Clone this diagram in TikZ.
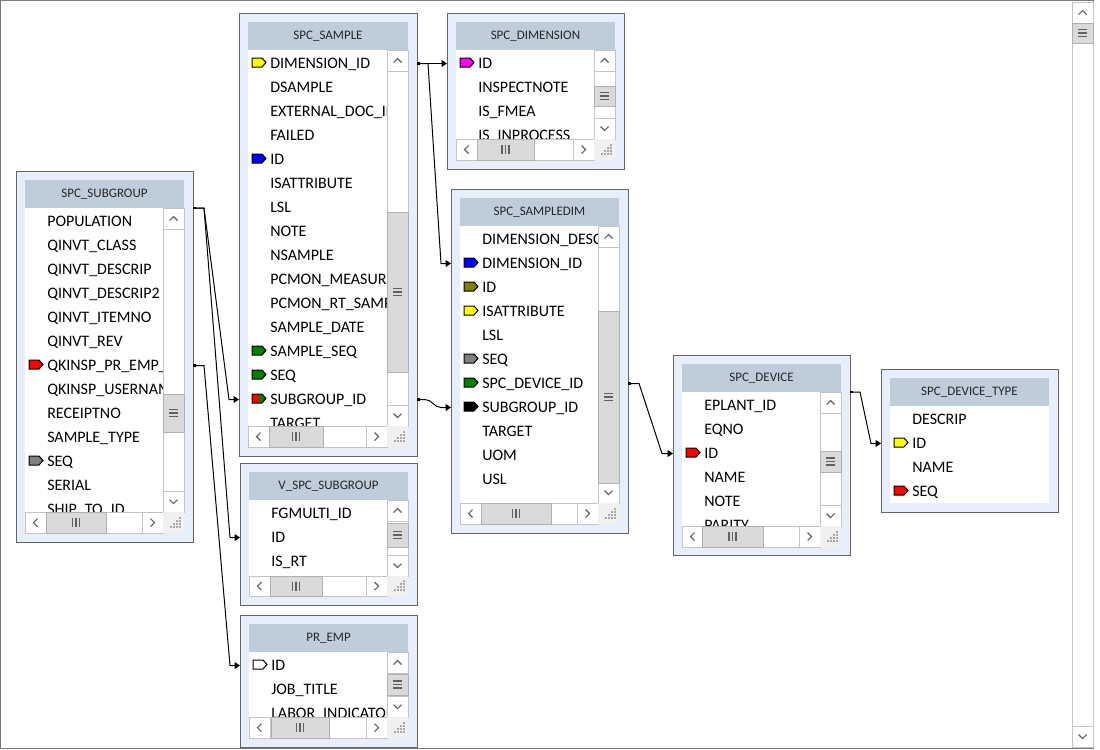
\documentclass[tikz,border=0pt]{standalone}
\usepackage{fontspec}
\setmainfont{Carlito}
\usetikzlibrary{arrows.meta,calc}
\definecolor{frameborder}{HTML}{646464}
\definecolor{framefill}{HTML}{E7EEFC}
\definecolor{headfill}{HTML}{BFCDDB}
\definecolor{sbline}{HTML}{C4C4C4}
\definecolor{thumbfill}{HTML}{DADADA}
\definecolor{thumbline}{HTML}{B0B0B0}
\definecolor{glyphcol}{HTML}{606060}
\definecolor{gripfill}{HTML}{F0F0F0}
\definecolor{gripdot}{HTML}{A8A8A8}
\definecolor{outerline}{HTML}{7A7A7A}
\definecolor{keyred}{HTML}{FF0000}
\definecolor{keygray}{HTML}{808080}
\definecolor{keyyellow}{HTML}{FFFF00}
\definecolor{keyblue}{HTML}{0000FF}
\definecolor{keygreen}{HTML}{008000}
\definecolor{keymagenta}{HTML}{FF00FF}
\definecolor{keyolive}{HTML}{808000}
\definecolor{keyblack}{HTML}{000000}
\definecolor{keywhite}{HTML}{FFFFFF}
\tikzset{
  xrow/.style={anchor=base west, inner sep=0pt, font=\fontsize{12}{14}\selectfont, text=black},
  xttl/.style={inner sep=0pt, font=\fontsize{9.75}{11}\selectfont, text=black!85},
  xsb/.style={draw=sbline, line width=0.75pt, fill=white},
  xthumb/.style={draw=thumbline, line width=0.75pt, fill=thumbfill},
  xglyph/.style={draw=glyphcol, line width=0.8pt},
  xgrip/.style={draw=glyphcol, line width=1.3pt},
  xkey/.style={draw=black, line width=0.75pt},
  xconn/.style={draw=black, line width=0.75pt, {Square[length=2.2pt,width=2.2pt]}-{Triangle[length=4pt,width=5pt]}},
}
\newcommand{\mytbl}[6]{%
  \path[draw=frameborder, fill=framefill, line width=0.75pt] (#1,#2) rectangle (#3,#4);
  \path[fill=headfill] ({#1+9},{#2+9}) rectangle ({#3-9},{#2+37});
  \path[fill=white] ({#1+9},{#2+37}) rectangle ({#3-9},{#4-9});
  \node[xttl] (#6) at ({(#1+#3)/2},{#2+23}) {#5};
}
\newcommand{\myrow}[4]{\node[xrow] (#1) at (#2,{#3+5}) {#4};}
\newcommand{\mykey}[3]{\path[xkey, fill=#3] (#1,{#2-5.5}) -- ({#1+10},{#2-5.5}) -- ({#1+14},{#2-1}) -- ({#1+10},{#2+3.5}) -- (#1,{#2+3.5}) -- cycle;}
\newcommand{\mykeyhalf}[4]{%
  \path[fill=#4] (#1,{#2-5.5}) -- ({#1+10},{#2-5.5}) -- ({#1+14},{#2-1}) -- ({#1+10},{#2+3.5}) -- (#1,{#2+3.5}) -- cycle;
  \path[fill=#3] (#1,{#2-5.5}) rectangle ({#1+7},{#2+3.5});
  \path[xkey] (#1,{#2-5.5}) -- ({#1+10},{#2-5.5}) -- ({#1+14},{#2-1}) -- ({#1+10},{#2+3.5}) -- (#1,{#2+3.5}) -- cycle;}
\newcommand{\myvsb}[6]{%
  \path[xsb] (#1,#2) rectangle (#3,#4);
  \path[xsb] (#1,#2) rectangle (#3,{#2+21});
  \path[xsb] (#1,{#4-21}) rectangle (#3,#4);
  \path[xthumb] (#1,#5) rectangle (#3,#6);
  \draw[xglyph] ({(#1+#3)/2-4},{#2+12.5}) -- ({(#1+#3)/2},{#2+8.5}) -- ({(#1+#3)/2+4},{#2+12.5});
  \draw[xglyph] ({(#1+#3)/2-4},{#4-12.5}) -- ({(#1+#3)/2},{#4-8.5}) -- ({(#1+#3)/2+4},{#4-12.5});
  \foreach \dy in {-3.5,0,3.5} {\draw[xgrip] ({(#1+#3)/2-4.5},{(#5+#6)/2+\dy}) -- ({(#1+#3)/2+4.5},{(#5+#6)/2+\dy});}
}
\newcommand{\myhsb}[6]{%
  \path[xsb] (#1,#2) rectangle (#3,#4);
  \path[xsb] (#1,#2) rectangle ({#1+21},#4);
  \path[xsb] ({#3-21},#2) rectangle (#3,#4);
  \path[xthumb] (#5,#2) rectangle (#6,#4);
  \draw[xglyph] ({#1+12.5},{(#2+#4)/2-4}) -- ({#1+8.5},{(#2+#4)/2}) -- ({#1+12.5},{(#2+#4)/2+4});
  \draw[xglyph] ({#3-12.5},{(#2+#4)/2-4}) -- ({#3-8.5},{(#2+#4)/2}) -- ({#3-12.5},{(#2+#4)/2+4});
  \foreach \dx in {-3.5,0,3.5} {\draw[xgrip] ({(#5+#6)/2+\dx},{(#2+#4)/2-4.5}) -- ({(#5+#6)/2+\dx},{(#2+#4)/2+4.5});}
}
\newcommand{\mygrip}[4]{%
  \path[fill=gripfill] (#1,#2) rectangle (#3,#4);
  \foreach \a/\b in {0/0,3/0,6/0,9/0,0/3,3/3,6/3,0/6,3/6,0/9} {\path[fill=gripdot] ({#3-5-\a},{#4-5-\b}) rectangle ++(2,-2);}
}
\begin{document}
\begin{tikzpicture}[x=0.75pt,y=-0.75pt]
\useasboundingbox (0,0) rectangle (1100,750);
\path[fill=white] (0,0) rectangle (1100,750);
\draw[draw=outerline, line width=0.9pt] (0.6,0.6) rectangle (1093.6,748.4);
% main scrollbar
\myvsb{1072}{2}{1093}{747}{23}{43}

% ---------- SPC_SUBGROUP
\mytbl{16}{171}{193}{542}{SPC\_SUBGROUP}{tSub}
\begin{scope}
\clip (25,208) rectangle (163,512);
\myrow{s1a}{47}{221.5}{POPULATION}
\myrow{s1b}{47}{245.5}{QINVT\_CLASS}
\myrow{s1c}{47}{269.5}{QINVT\_DESCRIP}
\myrow{s1d}{47}{293.5}{QINVT\_DESCRIP2}
\myrow{s1e}{47}{317.5}{QINVT\_ITEMNO}
\myrow{s1f}{47}{341.5}{QINVT\_REV}
\mykey{29}{365.5}{keyred}
\myrow{s1g}{47}{365.5}{QKINSP\_PR\_EMP\_ID}
\myrow{s1h}{47}{389.5}{QKINSP\_USERNAME}
\myrow{s1i}{47}{413.5}{RECEIPTNO}
\myrow{s1j}{47}{437.5}{SAMPLE\_TYPE}
\mykey{29}{461.5}{keygray}
\myrow{s1k}{47}{461.5}{SEQ}
\myrow{s1l}{47}{485.5}{SERIAL}
\myrow{s1m}{47}{509.5}{SHIP\_TO\_ID}
\end{scope}
\myvsb{163}{208}{184}{512}{394}{432}
\myhsb{25}{512}{163}{533}{46}{106}
\mygrip{163}{512}{184}{533}

% ---------- SPC_SAMPLE
\mytbl{239}{13}{417}{456}{SPC\_SAMPLE}{tSmp}
\begin{scope}
\clip (248,50) rectangle (387,426);
\mykey{252}{63.5}{keyyellow}
\myrow{s2a}{270}{63.5}{DIMENSION\_ID}
\myrow{s2b}{270}{87.5}{DSAMPLE}
\myrow{s2c}{270}{111.5}{EXTERNAL\_DOC\_ID}
\myrow{s2d}{270}{135.5}{FAILED}
\mykey{252}{159.5}{keyblue}
\myrow{s2e}{270}{159.5}{ID}
\myrow{s2f}{270}{183.5}{ISATTRIBUTE}
\myrow{s2g}{270}{207.5}{LSL}
\myrow{s2h}{270}{231.5}{NOTE}
\myrow{s2i}{270}{255.5}{NSAMPLE}
\myrow{s2j}{270}{279.5}{PCMON\_MEASURE}
\myrow{s2k}{270}{303.5}{PCMON\_RT\_SAMPLE}
\myrow{s2l}{270}{327.5}{SAMPLE\_DATE}
\mykey{252}{351.5}{keygreen}
\myrow{s2m}{270}{351.5}{SAMPLE\_SEQ}
\mykey{252}{375.5}{keygreen}
\myrow{s2n}{270}{375.5}{SEQ}
\mykeyhalf{252}{399.5}{keyred}{keygreen}
\myrow{s2o}{270}{399.5}{SUBGROUP\_ID}
\myrow{s2p}{270}{423.5}{TARGET}
\end{scope}
\myvsb{387}{50}{408}{426}{212}{372}
\myhsb{248}{426}{387}{447}{269}{323}
\mygrip{387}{426}{408}{447}

% ---------- SPC_DIMENSION
\mytbl{447}{13}{624}{169}{SPC\_DIMENSION}{tDim}
\begin{scope}
\clip (456,50) rectangle (594,139);
\mykey{460}{63.5}{keymagenta}
\myrow{s3a}{478}{63.5}{ID}
\myrow{s3b}{478}{87.5}{INSPECTNOTE}
\myrow{s3c}{478}{111.5}{IS\_FMEA}
\myrow{s3d}{478}{135.5}{IS\_INPROCESS}
\end{scope}
\myvsb{594}{50}{615}{139}{86}{106}
\myhsb{456}{139}{594}{160}{477}{534}
\mygrip{594}{139}{615}{160}

% ---------- SPC_SAMPLEDIM
\mytbl{451}{189}{628}{533}{SPC\_SAMPLEDIM}{tSd}
\begin{scope}
\clip (460,226) rectangle (598,503);
\myrow{s4a}{482}{239.5}{DIMENSION\_DESC}
\mykey{464}{263.5}{keyblue}
\myrow{s4b}{482}{263.5}{DIMENSION\_ID}
\mykey{464}{287.5}{keyolive}
\myrow{s4c}{482}{287.5}{ID}
\mykey{464}{311.5}{keyyellow}
\myrow{s4d}{482}{311.5}{ISATTRIBUTE}
\myrow{s4e}{482}{335.5}{LSL}
\mykey{464}{359.5}{keygray}
\myrow{s4f}{482}{359.5}{SEQ}
\mykey{464}{383.5}{keygreen}
\myrow{s4g}{482}{383.5}{SPC\_DEVICE\_ID}
\mykey{464}{407.5}{keyblack}
\myrow{s4h}{482}{407.5}{SUBGROUP\_ID}
\myrow{s4i}{482}{431.5}{TARGET}
\myrow{s4j}{482}{455.5}{UOM}
\myrow{s4k}{482}{479.5}{USL}
\end{scope}
\myvsb{598}{226}{619}{503}{311}{483}
\myhsb{460}{503}{598}{524}{481}{551}
\mygrip{598}{503}{619}{524}

% ---------- SPC_DEVICE
\mytbl{673}{355}{850}{555}{SPC\_DEVICE}{tDev}
\begin{scope}
\clip (682,392) rectangle (820,526);
\myrow{s5a}{704}{405.5}{EPLANT\_ID}
\myrow{s5b}{704}{429.5}{EQNO}
\mykey{686}{453.5}{keyred}
\myrow{s5c}{704}{453.5}{ID}
\myrow{s5d}{704}{477.5}{NAME}
\myrow{s5e}{704}{501.5}{NOTE}
\myrow{s5f}{704}{525.5}{PARITY}
\end{scope}
\myvsb{820}{392}{841}{526}{451}{472}
\myhsb{682}{526}{820}{547}{702}{763}
\mygrip{820}{526}{841}{547}

% ---------- SPC_DEVICE_TYPE
\mytbl{881}{369}{1058}{512}{SPC\_DEVICE\_TYPE}{tDt}
\myrow{s6a}{912}{419.5}{DESCRIP}
\mykey{894}{443.5}{keyyellow}
\myrow{s6b}{912}{443.5}{ID}
\myrow{s6c}{912}{467.5}{NAME}
\mykey{894}{491.5}{keyred}
\myrow{s6d}{912}{491.5}{SEQ}

% ---------- V_SPC_SUBGROUP
\mytbl{240}{463}{417}{605}{V\_SPC\_SUBGROUP}{tVsg}
\begin{scope}
\clip (249,500) rectangle (387,576);
\myrow{s7a}{271}{513.5}{FGMULTI\_ID}
\myrow{s7b}{271}{537.5}{ID}
\myrow{s7c}{271}{561.5}{IS\_RT}
\end{scope}
\myvsb{387}{500}{408}{576}{523}{547}
\myhsb{249}{576}{387}{596}{270}{322}
\mygrip{387}{576}{408}{596}

% ---------- PR_EMP
\mytbl{240}{615}{417}{747}{PR\_EMP}{tEmp}
\begin{scope}
\clip (249,652) rectangle (387,717);
\mykey{253}{665.5}{keywhite}
\myrow{s8a}{271}{665.5}{ID}
\myrow{s8b}{271}{689.5}{JOB\_TITLE}
\myrow{s8c}{271}{713.5}{LABOR\_INDICATOR}
\end{scope}
\myvsb{387}{652}{408}{717}{674}{695}
\myhsb{249}{717}{387}{738}{271}{329}
\mygrip{387}{717}{408}{738}

% ---------- connection points
\coordinate (sgTop) at (193,208);
\coordinate (sgEmp) at (193,365.5);
\coordinate (smpSubIn) at (239,399.5);
\coordinate (vsgId) at (240,537.5);
\coordinate (empId) at (240,665.5);
\coordinate (smpDimOut) at (417,63.5);
\coordinate (dimId) at (447,63.5);
\coordinate (sdDimId) at (451,263.5);
\coordinate (smpSubOut) at (417,399.5);
\coordinate (sdSub) at (451,407.5);
\coordinate (sdDevOut) at (628,383.5);
\coordinate (devId) at (673,453.5);
\coordinate (devOut) at (850,392);
\coordinate (dtId) at (881,443.5);

% ---------- connectors
\draw[xconn] (sgTop) -- ++(11,0) -- ($(smpSubIn)+(-10,0)$) -- (smpSubIn);
\draw[xconn] (sgTop) -- ++(11,0) -- ($(vsgId)+(-10,0)$) -- (vsgId);
\draw[xconn] (sgEmp) -- ++(11,0) -- ($(empId)+(-10,0)$) -- (empId);
\draw[xconn] (smpDimOut) -- (dimId);
\draw[xconn] (smpDimOut) -- ++(11,0) -- ($(sdDimId)+(-10,0)$) -- (sdDimId);
\draw[xconn] (smpSubOut) -- ++(8,0) .. controls ($(smpSubOut)+(15,0)$) and ($(sdSub)+(-17,0)$) .. ($(sdSub)+(-10,0)$) -- (sdSub);
\draw[xconn] (sdDevOut) -- ++(11,0) -- ($(devId)+(-11,0)$) -- (devId);
\draw[xconn] (devOut) -- ++(10,0) -- ($(dtId)+(-10,0)$) -- (dtId);
\end{tikzpicture}
\end{document}
